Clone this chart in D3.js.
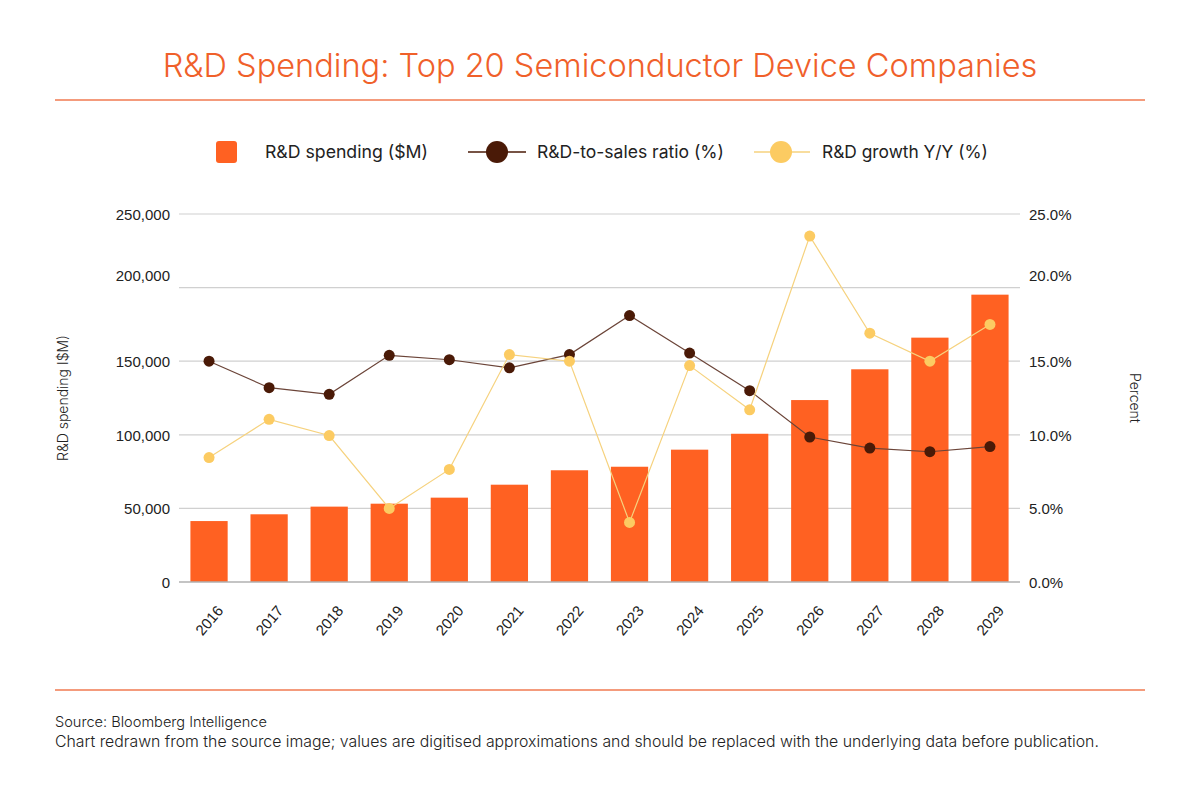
<!DOCTYPE html>
<html>
<head>
<meta charset="utf-8">
<script src="https://cdn.jsdelivr.net/npm/d3@7"></script>
<style>
  html, body { margin: 0; padding: 0; background: #fff; }
  svg { display: block; font-family: "Inter", "Lato", sans-serif; }
</style>
</head>
<body>
<svg id="chart" width="1200" height="800"></svg>
<script>
// ---- data ----
const years = ["2016","2017","2018","2019","2020","2021","2022","2023","2024","2025","2026","2027","2028","2029"];
const rdSpending = [41400, 46000, 51200, 53200, 57300, 66100, 75900, 78300, 89900, 100700, 123600, 144500, 166000, 195200];
const rdToSales = [15.0, 13.2, 12.75, 15.4, 15.1, 14.55, 15.45, 18.1, 15.55, 13.0, 9.85, 9.1, 8.85, 9.2];
const rdGrowth = [8.45, 11.05, 9.95, 5.0, 7.65, 15.45, 15.0, 4.05, 14.7, 11.7, 23.5, 16.9, 15.0, 17.5];
const leftTicks = [0, 50000, 100000, 150000, 200000, 250000];
const rightTicks = [0, 5, 10, 15, 20, 25];
const legendLabels = ["R&D spending ($M)", "R&D-to-sales ratio (%)", "R&D growth Y/Y (%)"];
const titleText = "R&D Spending: Top 20 Semiconductor Device Companies";
const leftAxisTitle = "R&D spending I$M)";
const rightAxisTitle = "Percent";
const footerLines = [
  "Source: Bloomberg Intelligence",
  "Chart redrawn from the source image; values are digitised approximations and should be replaced with the underlying data before publication."
];

// ---- styles ----
const ORANGE = "#FF6122";
const TITLE_ORANGE = "#F0602A";
const DARK = "#4A1A07";
const DARK_LINE = "#6B4438";
const YELLOW = "#FCCB62";
const YELLOW_LINE = "#F6D27E";

const svg = d3.select("#chart");

const plot = { left: 179, right: 1020, top: 214, bottom: 582 };

const x = d3.scaleBand().domain(years).range([plot.left, plot.right]).paddingInner(0.38).paddingOuter(0.19);
const yL = d3.scaleLinear().domain([0, 250000]).range([plot.bottom, plot.top]);
const yR = d3.scaleLinear().domain([0, 25]).range([plot.bottom, plot.top]);

// fit a text element to a target width by adjusting font size
function fitWidth(sel, target) {
  const n = sel.node();
  const w = n.getComputedTextLength();
  const fs = parseFloat(sel.style("font-size"));
  sel.style("font-size", (fs * target / w).toFixed(2) + "px");
}

// title
const title = svg.append("text").attr("x", 600).attr("y", 77).attr("text-anchor", "middle")
  .attr("fill", TITLE_ORANGE).style("font-size", "33px").style("font-weight", 300)
  .text(titleText);
fitWidth(title, 875);
svg.append("line").attr("x1", 55).attr("x2", 1145).attr("y1", 100).attr("y2", 100)
  .attr("stroke", "#F07A50").attr("stroke-width", 1.5);
svg.append("line").attr("x1", 55).attr("x2", 1145).attr("y1", 690).attr("y2", 690)
  .attr("stroke", "#F07A50").attr("stroke-width", 1.5);

// legend
const lg = svg.append("g").attr("fill", "#222");
lg.append("rect").attr("x", 216).attr("y", 141).attr("width", 21).attr("height", 22).attr("rx", 3).attr("fill", ORANGE);
fitWidth(lg.append("text").attr("x", 265).attr("y", 158).style("font-size", "17px").text(legendLabels[0]), 163);
lg.append("line").attr("x1", 468).attr("x2", 526).attr("y1", 152).attr("y2", 152).attr("stroke", DARK).attr("stroke-width", 1.5);
lg.append("circle").attr("cx", 497).attr("cy", 152).attr("r", 11).attr("fill", DARK);
fitWidth(lg.append("text").attr("x", 537).attr("y", 158).style("font-size", "17px").text(legendLabels[1]), 187);
lg.append("line").attr("x1", 754).attr("x2", 810).attr("y1", 152).attr("y2", 152).attr("stroke", YELLOW_LINE).attr("stroke-width", 1.5);
lg.append("circle").attr("cx", 781).attr("cy", 152).attr("r", 11).attr("fill", YELLOW);
fitWidth(lg.append("text").attr("x", 822).attr("y", 158).style("font-size", "17px").text(legendLabels[2]), 166);

// gridlines
svg.append("g").selectAll("line").data(leftTicks.slice(1)).join("line")
  .attr("x1", plot.left).attr("x2", plot.right)
  .attr("y1", d => yL(d)).attr("y2", d => yL(d))
  .attr("stroke", "#D0D0D0").attr("stroke-width", 1.2);

// left axis
const axL = svg.append("g").attr("transform", `translate(${plot.left},0)`)
  .call(d3.axisLeft(yL).tickValues(leftTicks).tickSize(0).tickPadding(9).tickFormat(d3.format(",")));
axL.select(".domain").remove();
axL.selectAll("text").style("font-size", "15px").style("font-weight", 300).attr("fill", "#222")
  .attr("dy", d => d === 200000 ? "-0.48em" : "0.35em");

// right axis
const axR = svg.append("g").attr("transform", `translate(${plot.right},0)`)
  .call(d3.axisRight(yR).tickValues(rightTicks).tickSize(0).tickPadding(9).tickFormat(d => d.toFixed(1) + "%"));
axR.select(".domain").remove();
axR.selectAll("text").style("font-size", "15px").style("font-weight", 300).attr("fill", "#222")
  .attr("dy", d => d === 20 ? "-0.48em" : "0.35em");

// axis titles
svg.append("text").attr("transform", `translate(68,${(plot.top + plot.bottom) / 2}) rotate(-90)`)
  .attr("text-anchor", "middle").style("font-size", "14px").style("font-weight", 300).attr("fill", "#222").text(leftAxisTitle);
svg.append("text").attr("transform", `translate(1130,${(plot.top + plot.bottom) / 2}) rotate(90)`)
  .attr("text-anchor", "middle").style("font-size", "14px").style("font-weight", 300).attr("fill", "#222").text(rightAxisTitle);

// bars
svg.append("g").selectAll("rect").data(years).join("rect")
  .attr("x", d => x(d)).attr("width", x.bandwidth())
  .attr("y", (d, i) => yL(rdSpending[i])).attr("height", (d, i) => yL(0) - yL(rdSpending[i]))
  .attr("fill", ORANGE);

// baseline
svg.append("line").attr("x1", plot.left).attr("x2", plot.right).attr("y1", plot.bottom).attr("y2", plot.bottom)
  .attr("stroke", "#B0B0B0").attr("stroke-width", 1.5);

// x axis
const axX = svg.append("g").attr("transform", `translate(0,${plot.bottom})`)
  .call(d3.axisBottom(x).tickSize(0).tickPadding(0));
axX.select(".domain").remove();
axX.selectAll("text").style("font-size", "15px").style("font-weight", 300).attr("fill", "#222")
  .attr("text-anchor", "end").attr("dy", 0)
  .attr("transform", "translate(15,29) rotate(-50)");

const cx = (d, i) => x(years[i]) + x.bandwidth() / 2;

// ratio line
svg.append("path").datum(rdToSales)
  .attr("d", d3.line().x(cx).y(d => yR(d)))
  .attr("fill", "none").attr("stroke", DARK_LINE).attr("stroke-width", 1.2);
svg.append("g").selectAll("circle").data(rdToSales).join("circle")
  .attr("cx", cx).attr("cy", d => yR(d)).attr("r", 5.5).attr("fill", DARK);

// growth line
svg.append("path").datum(rdGrowth)
  .attr("d", d3.line().x(cx).y(d => yR(d)))
  .attr("fill", "none").attr("stroke", YELLOW_LINE).attr("stroke-width", 1.2);
svg.append("g").selectAll("circle").data(rdGrowth).join("circle")
  .attr("cx", cx).attr("cy", d => yR(d)).attr("r", 5.5).attr("fill", YELLOW);

// footer
const ft = svg.append("g").attr("fill", "#222");
fitWidth(ft.append("text").attr("x", 55).attr("y", 727).style("font-size", "15px").style("font-weight", 300).text(footerLines[0]), 212);
fitWidth(ft.append("text").attr("x", 55).attr("y", 747).style("font-size", "15px").style("font-weight", 300).text(footerLines[1]), 1045);
</script>
</body>
</html>
